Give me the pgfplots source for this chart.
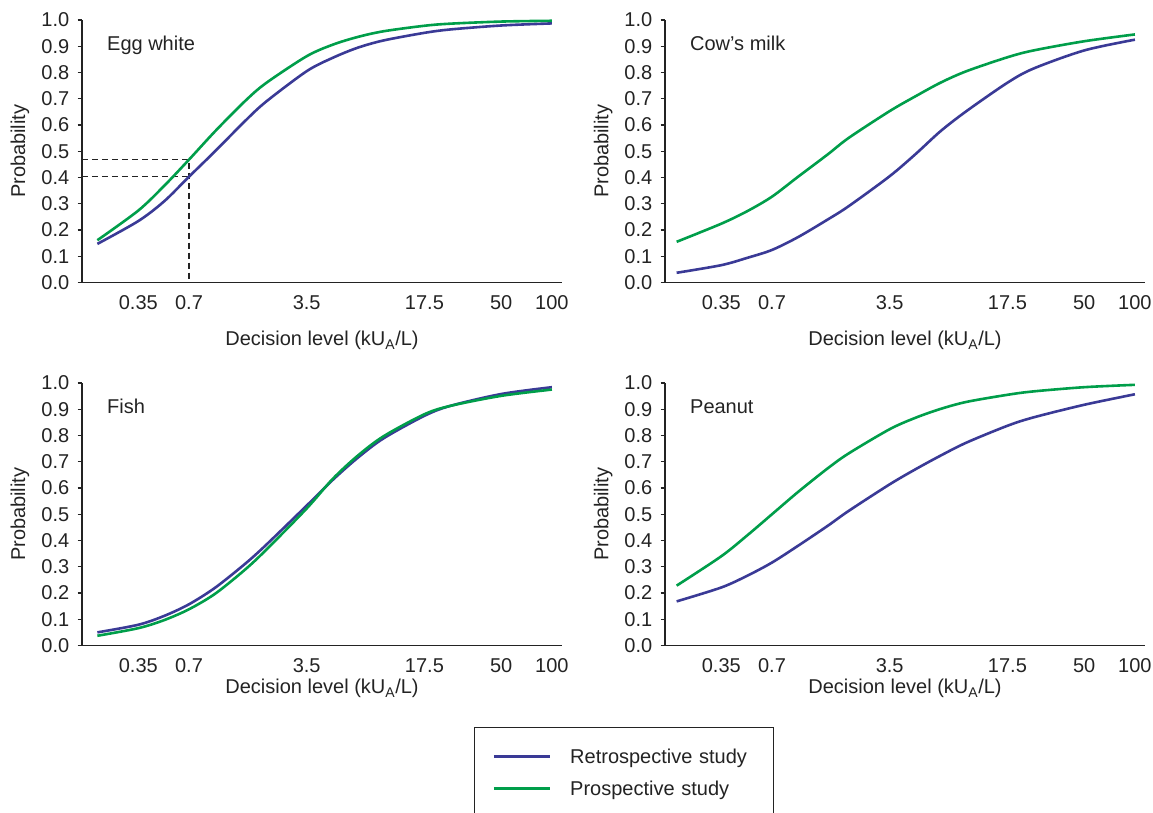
\documentclass[border=0pt]{standalone}
\usepackage{pgfplots}
\pgfplotsset{compat=1.18}
\usepackage{fontspec}
\setmainfont{Liberation Sans}

\definecolor{retro}{RGB}{58,58,150}
\definecolor{prosp}{RGB}{0,158,74}
\definecolor{ink}{RGB}{35,35,35}

\newcommand\lbl{\fontsize{20}{24}\selectfont}

\begin{document}
\begin{tikzpicture}

% Egg white
\begin{axis}[
    scale only axis, width=480pt, height=262.5pt,
    at={(82pt,530.5pt)}, anchor=south west,
    xmode=log, xmin=0.1621, xmax=114.8, ymin=0, ymax=1,
    axis x line*=bottom, axis y line*=left,
    axis line style={-, draw=ink, line width=1.2pt},
    xtick={0.35,0.7,3.5,17.5,50,100},
    xticklabels={0.35,0.7,3.5,17.5,50,100},
    ytick={0,0.1,0.2,0.3,0.4,0.5,0.6,0.7,0.8,0.9,1},
    yticklabels={0.0,0.1,0.2,0.3,0.4,0.5,0.6,0.7,0.8,0.9,1.0},
    xtick style={draw=none}, ytick style={draw=ink, line width=1.2pt},
    tick align=outside, major tick length=4.3pt,
    tick label style={font=\lbl, text=ink},
    yticklabel style={xshift=-5pt}, xticklabel style={yshift=-5pt},
    label style={font=\lbl, text=ink},
    xlabel={Decision level (kU\textsubscript{A}/L)}, ylabel={Probability},
    ylabel style={at={(axis description cs:-0.129,0.5)}, anchor=center},
    xlabel style={at={(axis description cs:0.5,-0.222)}, anchor=center},
    clip=false]
\addplot[ink, line width=1.1pt, dash pattern=on 6pt off 4pt] coordinates {(0.1621,0.468) (0.7,0.468) (0.7,0)};
\addplot[ink, line width=1.1pt, dash pattern=on 6pt off 4pt] coordinates {(0.1621,0.403) (0.7,0.403)};
\addplot[retro, line width=2.6pt, smooth] coordinates {
 (0.2,0.147) (0.35,0.234) (0.5,0.31) (0.7,0.403) (1,0.50) (1.5,0.614)
 (2,0.688) (3.5,0.805) (5,0.856) (7,0.894) (10,0.922) (17.5,0.951)
 (25,0.964) (50,0.979) (100,0.987)};
\addplot[prosp, line width=2.6pt, smooth] coordinates {
 (0.2,0.161) (0.35,0.274) (0.5,0.369) (0.7,0.468) (1,0.576) (1.5,0.690)
 (2,0.759) (3.5,0.862) (5,0.906) (7,0.935) (10,0.957) (17.5,0.978)
 (25,0.986) (50,0.994) (100,0.997)};
\node[anchor=base west, inner sep=0pt, font=\lbl, text=ink] at (axis description cs:0.052,0.882) {Egg white};
\end{axis}

% Cow's milk
\begin{axis}[
    scale only axis, width=480pt, height=262.5pt,
    at={(665pt,530.5pt)}, anchor=south west,
    xmode=log, xmin=0.1621, xmax=114.8, ymin=0, ymax=1,
    axis x line*=bottom, axis y line*=left,
    axis line style={-, draw=ink, line width=1.2pt},
    xtick={0.35,0.7,3.5,17.5,50,100},
    xticklabels={0.35,0.7,3.5,17.5,50,100},
    ytick={0,0.1,0.2,0.3,0.4,0.5,0.6,0.7,0.8,0.9,1},
    yticklabels={0.0,0.1,0.2,0.3,0.4,0.5,0.6,0.7,0.8,0.9,1.0},
    xtick style={draw=none}, ytick style={draw=ink, line width=1.2pt},
    tick align=outside, major tick length=4.3pt,
    tick label style={font=\lbl, text=ink},
    yticklabel style={xshift=-5pt}, xticklabel style={yshift=-5pt},
    label style={font=\lbl, text=ink},
    xlabel={Decision level (kU\textsubscript{A}/L)}, ylabel={Probability},
    ylabel style={at={(axis description cs:-0.129,0.5)}, anchor=center},
    xlabel style={at={(axis description cs:0.5,-0.222)}, anchor=center},
    clip=false]
\addplot[retro, line width=2.6pt, smooth] coordinates {
 (0.19,0.037) (0.35,0.066) (0.5,0.094) (0.7,0.124) (1,0.173) (1.5,0.24)
 (2,0.291) (3.5,0.405) (5,0.49) (7,0.576) (10,0.653) (17.5,0.761)
 (25,0.815) (50,0.884) (100,0.925)};
\addplot[prosp, line width=2.6pt, smooth] coordinates {
 (0.19,0.155) (0.35,0.224) (0.5,0.272) (0.7,0.327) (1,0.403) (1.5,0.488)
 (2,0.551) (3.5,0.653) (5,0.71) (7,0.761) (10,0.805) (17.5,0.858)
 (25,0.884) (50,0.919) (100,0.945)};
\node[anchor=base west, inner sep=0pt, font=\lbl, text=ink] at (axis description cs:0.052,0.882) {Cow’s milk};
\end{axis}

% Fish (carries the legend)
\begin{axis}[
    scale only axis, width=480pt, height=262.5pt,
    at={(82pt,167.5pt)}, anchor=south west,
    xmode=log, xmin=0.1621, xmax=114.8, ymin=0, ymax=1,
    axis x line*=bottom, axis y line*=left,
    axis line style={-, draw=ink, line width=1.2pt},
    xtick={0.35,0.7,3.5,17.5,50,100},
    xticklabels={0.35,0.7,3.5,17.5,50,100},
    ytick={0,0.1,0.2,0.3,0.4,0.5,0.6,0.7,0.8,0.9,1},
    yticklabels={0.0,0.1,0.2,0.3,0.4,0.5,0.6,0.7,0.8,0.9,1.0},
    xtick style={draw=none}, ytick style={draw=ink, line width=1.2pt},
    tick align=outside, major tick length=4.3pt,
    tick label style={font=\lbl, text=ink},
    yticklabel style={xshift=-5pt}, xticklabel style={yshift=-5pt},
    label style={font=\lbl, text=ink},
    xlabel={Decision level (kU\textsubscript{A}/L)}, ylabel={Probability},
    ylabel style={at={(axis description cs:-0.129,0.5)}, anchor=center},
    xlabel style={at={(axis description cs:0.5,-0.165)}, anchor=center},
    clip=false,
    legend image code/.code={\draw[#1, line width=2.6pt] (0pt,0pt) -- (56pt,0pt);},
    legend style={at={(axis description cs:0.8167,-0.3105)}, anchor=north west,
      draw=ink, line width=1.2pt, fill=white, font=\lbl, text=ink,
      inner xsep=18pt, inner ysep=19pt, row sep=12pt,
      /tikz/every odd column/.append style={column sep=17pt}},
    legend cell align=left]
\addplot[retro, line width=2.6pt, smooth] coordinates {
 (0.2,0.05) (0.35,0.079) (0.5,0.113) (0.7,0.157) (1,0.22) (1.5,0.31)
 (2,0.382) (3.5,0.533) (5,0.631) (7,0.714) (10,0.789) (17.5,0.875)
 (25,0.913) (50,0.958) (100,0.984)};
\addlegendentry[text width=183pt]{Retrospective study}
\addplot[prosp, line width=2.6pt, smooth] coordinates {
 (0.2,0.037) (0.35,0.066) (0.5,0.097) (0.7,0.138) (1,0.197) (1.5,0.288)
 (2,0.363) (3.5,0.522) (5,0.635) (7,0.722) (10,0.797) (17.5,0.881)
 (25,0.913) (50,0.951) (100,0.975)};
\addlegendentry[text width=183pt]{Prospective study}
\node[anchor=base west, inner sep=0pt, font=\lbl, text=ink] at (axis description cs:0.052,0.882) {Fish};
\end{axis}

% Peanut
\begin{axis}[
    scale only axis, width=480pt, height=262.5pt,
    at={(665pt,167.5pt)}, anchor=south west,
    xmode=log, xmin=0.1621, xmax=114.8, ymin=0, ymax=1,
    axis x line*=bottom, axis y line*=left,
    axis line style={-, draw=ink, line width=1.2pt},
    xtick={0.35,0.7,3.5,17.5,50,100},
    xticklabels={0.35,0.7,3.5,17.5,50,100},
    ytick={0,0.1,0.2,0.3,0.4,0.5,0.6,0.7,0.8,0.9,1},
    yticklabels={0.0,0.1,0.2,0.3,0.4,0.5,0.6,0.7,0.8,0.9,1.0},
    xtick style={draw=none}, ytick style={draw=ink, line width=1.2pt},
    tick align=outside, major tick length=4.3pt,
    tick label style={font=\lbl, text=ink},
    yticklabel style={xshift=-5pt}, xticklabel style={yshift=-5pt},
    label style={font=\lbl, text=ink},
    xlabel={Decision level (kU\textsubscript{A}/L)}, ylabel={Probability},
    ylabel style={at={(axis description cs:-0.129,0.5)}, anchor=center},
    xlabel style={at={(axis description cs:0.5,-0.165)}, anchor=center},
    clip=false]
\addplot[retro, line width=2.6pt, smooth] coordinates {
 (0.19,0.168) (0.35,0.221) (0.5,0.266) (0.7,0.316) (1,0.38) (1.5,0.456)
 (2,0.513) (3.5,0.614) (5,0.672) (7,0.723) (10,0.773) (17.5,0.837)
 (25,0.869) (50,0.917) (100,0.957)};
\addplot[prosp, line width=2.6pt, smooth] coordinates {
 (0.19,0.228) (0.35,0.34) (0.5,0.42) (0.7,0.50) (1,0.585) (1.5,0.675)
 (2,0.732) (3.5,0.824) (5,0.868) (7,0.901) (10,0.928) (17.5,0.955)
 (25,0.968) (50,0.984) (100,0.993)};
\node[anchor=base west, inner sep=0pt, font=\lbl, text=ink] at (axis description cs:0.052,0.882) {Peanut};
\end{axis}

% fix the page to the figure's frame
\pgfresetboundingbox
\path[use as bounding box] (0,0) rectangle (1153pt,813pt);
\end{tikzpicture}
\end{document}
